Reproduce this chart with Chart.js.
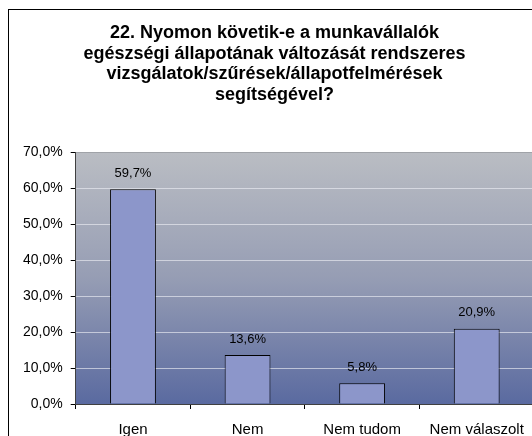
<!DOCTYPE html>
<html>
<head>
<meta charset="utf-8">
<script src="https://cdn.jsdelivr.net/npm/chart.js@4"></script>
<style>
html,body{margin:0;padding:0;overflow:hidden;width:532px;height:436px;background:#fff;}
#frame{position:absolute;left:8px;top:9px;width:700px;height:700px;border:1px solid #000;}
#wrap{position:absolute;left:0;top:0;width:540px;height:451px;}
</style>
</head>
<body>
<div id="frame"></div>
<div id="wrap"><canvas id="c" width="540" height="451"></canvas></div>
<script>
const titleLines = [
  "22. Nyomon követik-e a munkavállalók",
  "egészségi állapotának változását rendszeres",
  "vizsgálatok/szűrések/állapotfelmérések",
  "segítségével?"
];
const categories = ["Igen", "Nem", "Nem tudom", "Nem válaszolt"];
const values = [59.7, 13.6, 5.8, 20.9];
const yMin = 0, yMax = 70, yStep = 10;

const fmt = v => v.toFixed(1).replace('.', ',') + '%';
const FONT = "'Liberation Sans', Arial, sans-serif";

const bgPlugin = {
  id: 'plotBg',
  beforeDraw(chart) {
    const {ctx, chartArea: a} = chart;
    const g = ctx.createLinearGradient(0, a.top, 0, a.bottom);
    g.addColorStop(0, 'rgb(186,189,195)');
    g.addColorStop(0.5, 'rgb(150,157,180)');
    g.addColorStop(1, 'rgb(90,106,160)');
    ctx.save();
    ctx.fillStyle = g;
    ctx.fillRect(a.left, a.top, a.right - a.left, a.bottom - a.top);
    ctx.restore();
  }
};

const labelPlugin = {
  id: 'valLabels',
  afterDatasetsDraw(chart) {
    const {ctx} = chart;
    const meta = chart.getDatasetMeta(0);
    ctx.save();
    ctx.font = "13px " + FONT;
    ctx.fillStyle = '#000';
    ctx.textAlign = 'center';
    ctx.textBaseline = 'middle';
    meta.data.forEach((bar, i) => {
      ctx.fillText(fmt(values[i]), bar.x, bar.y - 16);
    });
    ctx.restore();
  }
};

new Chart(document.getElementById('c'), {
  type: 'bar',
  data: {
    labels: categories,
    datasets: [{
      data: values,
      backgroundColor: 'rgb(140,150,202)',
      borderColor: '#000',
      borderWidth: 1,
      barPercentage: 0.4,
      categoryPercentage: 1.0
    }]
  },
  options: {
    responsive: false,
    animation: false,
    devicePixelRatio: 1,
    layout: {padding: {left: 15, right: 6, top: 0, bottom: 0}},
    plugins: {
      legend: {display: false},
      tooltip: {enabled: false},
      title: {
        display: true,
        text: titleLines,
        color: '#000',
        font: {family: FONT, size: 18, weight: 'bold', lineHeight: 1.14},
        padding: {top: 23, bottom: 47}
      }
    },
    scales: {
      y: {
        min: yMin, max: yMax,
        ticks: {stepSize: yStep, callback: v => fmt(v), color: '#000',
                font: {family: FONT, size: 14}, padding: 8},
        grid: {
          color: c => c.tick && c.tick.value === yMax ? 'rgb(160,163,168)' : 'rgba(235,237,243,0.65)',
          tickColor: '#000', tickLength: 5, lineWidth: 1
        },
        border: {color: '#404040', width: 1}
      },
      x: {
        ticks: {color: '#000', font: {family: FONT, size: 15}, padding: 12},
        grid: {offset: true, drawOnChartArea: false, tickColor: '#000', tickLength: 5},
        border: {color: '#404040', width: 1}
      }
    }
  },
  plugins: [bgPlugin, labelPlugin]
});
</script>
</body>
</html>
